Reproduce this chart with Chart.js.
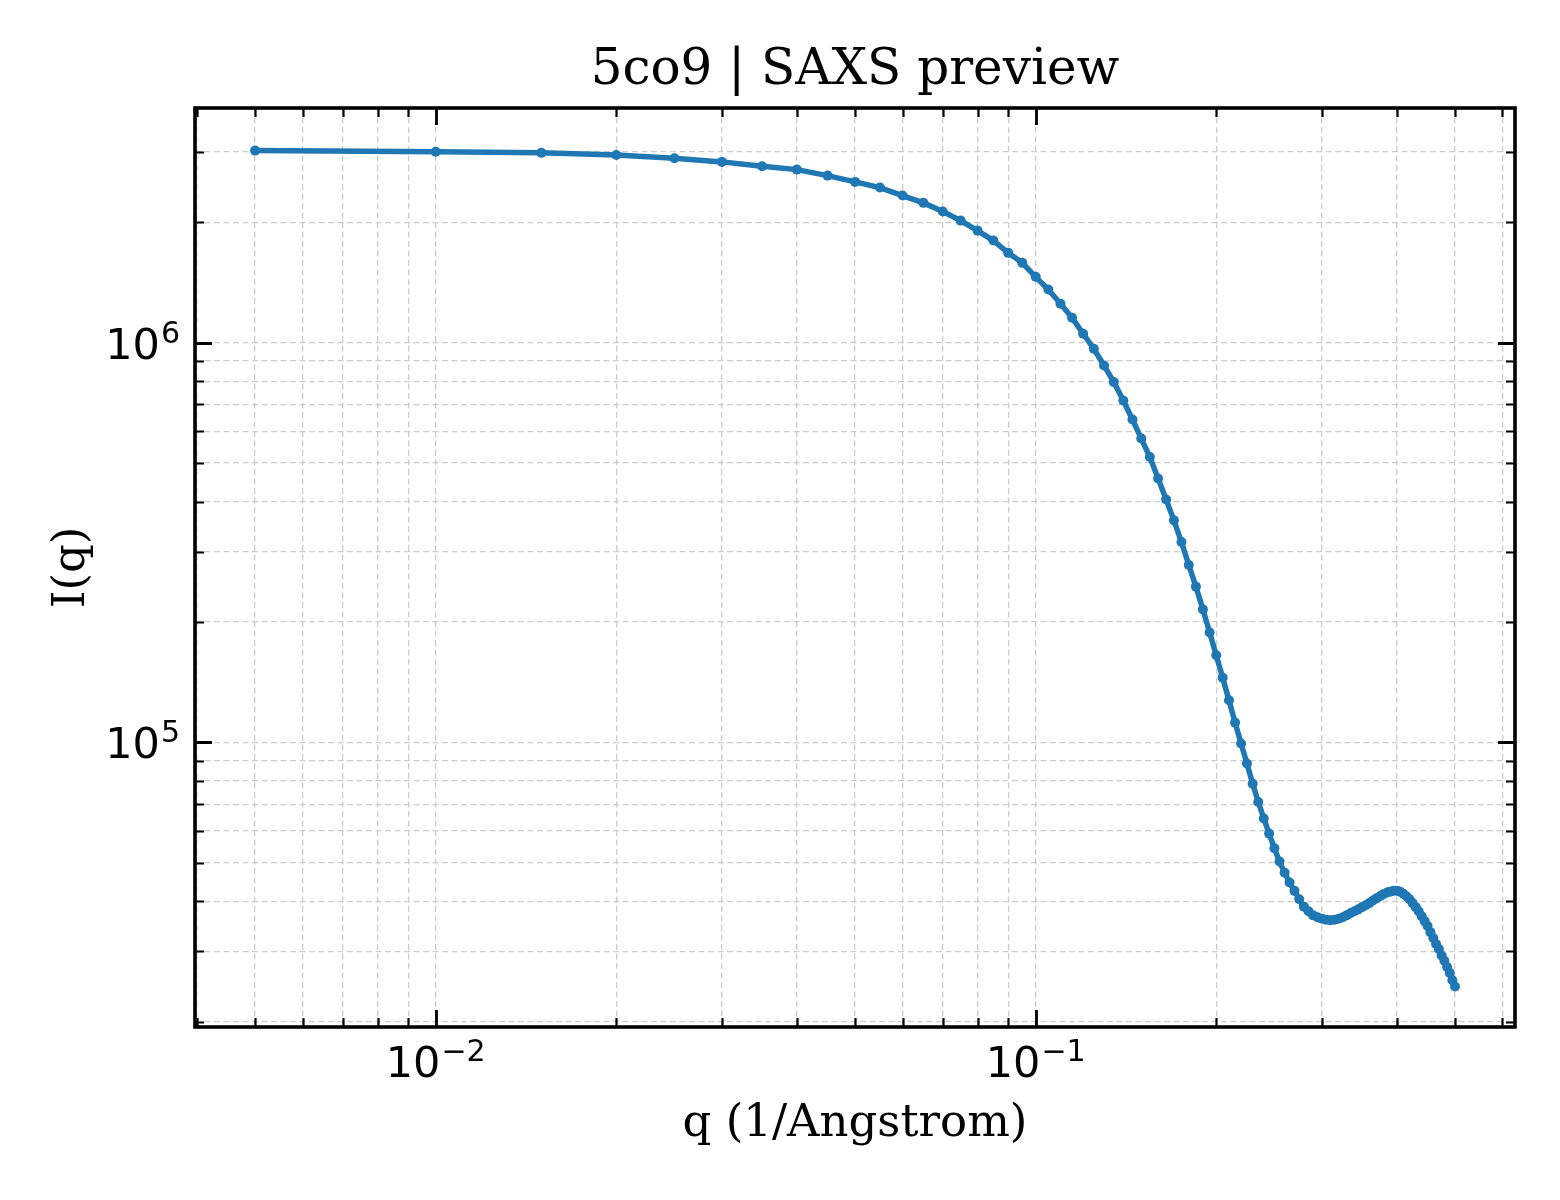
<!DOCTYPE html>
<html>
<head>
<meta charset="utf-8">
<title>5co9 | SAXS preview</title>
<script src="https://cdn.jsdelivr.net/npm/chart.js@4.4.1/dist/chart.umd.min.js"></script>
<style>
  html, body { margin: 0; padding: 0; background: #fff; }
  #wrap { width: 1560px; height: 1200px; }
</style>
</head>
<body>
<div id="wrap"><canvas id="saxs" width="1560" height="1200"></canvas></div>
<script>
// q in 1/Angstrom
const qValues = [
  0.005, 0.010, 0.015, 0.020, 0.025, 0.030, 0.035, 0.040, 0.045, 0.050,
  0.055, 0.060, 0.065, 0.070, 0.075, 0.080, 0.085, 0.090, 0.095, 0.100,
  0.105, 0.110, 0.115, 0.120, 0.125, 0.130, 0.135, 0.140, 0.145, 0.150,
  0.155, 0.160, 0.165, 0.170, 0.175, 0.180, 0.185, 0.190, 0.195, 0.200,
  0.205, 0.210, 0.215, 0.220, 0.225, 0.230, 0.235, 0.240, 0.245, 0.250,
  0.255, 0.260, 0.265, 0.270, 0.275, 0.280, 0.285, 0.290, 0.295, 0.300,
  0.305, 0.310, 0.315, 0.320, 0.325, 0.330, 0.335, 0.340, 0.345, 0.350,
  0.355, 0.360, 0.365, 0.370, 0.375, 0.380, 0.385, 0.390, 0.395, 0.400,
  0.405, 0.410, 0.415, 0.420, 0.425, 0.430, 0.435, 0.440, 0.445, 0.450,
  0.455, 0.460, 0.465, 0.470, 0.475, 0.480, 0.485, 0.490, 0.495, 0.500
];

// I(q)
const intensity = [
  3020000, 3000000, 2981000, 2946000, 2889000, 2830000, 2759000, 2707000, 2615000, 2522000,
  2441000, 2331000, 2235000, 2126000, 2018000, 1905000, 1799000, 1676000, 1582000, 1460000,
  1357000, 1250000, 1153000, 1052000, 964500, 876000, 796000, 716000, 642000, 575000,
  517000, 457000, 405000, 359000, 316800, 277600, 245100, 215000, 188100, 165000,
  145100, 127400, 112000, 99300, 88500, 78800, 70900, 64500, 59100, 54300,
  50300, 47200, 44600, 42500, 40500, 38800, 37800, 36900, 36500, 36200,
  36000, 35900, 36000, 36200, 36500, 36900, 37400, 37800, 38200, 38700,
  39100, 39600, 40200, 40700, 41200, 41700, 42100, 42300, 42500, 42550,
  42300, 41800, 41200, 40500, 39600, 38700, 37800, 36700, 35700, 34700,
  33500, 32400, 31300, 30400, 29300, 28400, 27400, 26500, 25400, 24500
];

const xGridTicks = [0.004, 0.005, 0.006, 0.007, 0.008, 0.009, 0.01,
  0.02, 0.03, 0.04, 0.05, 0.06, 0.07, 0.08, 0.09, 0.1,
  0.2, 0.3, 0.4, 0.5, 0.6];
const yGridTicks = [20000, 30000, 40000, 50000, 60000, 70000, 80000, 90000, 100000,
  200000, 300000, 400000, 500000, 600000, 700000, 800000, 900000, 1000000,
  2000000, 3000000];
const xMajorTicks = [0.01, 0.1];
const xTickExponents = ['\u22122', '\u22121'];
const yMajorTicks = [100000, 1000000];
const yTickExponents = ['5', '6'];

const serif = '"DejaVu Serif", "Liberation Serif", serif';
const sans = '"DejaVu Sans", "Liberation Sans", sans-serif';

function drawPower(ctx, x, y, exp, align) {
  ctx.font = '43px ' + sans;
  const wBase = ctx.measureText('10').width;
  ctx.font = '30px ' + sans;
  const wExp = ctx.measureText(exp).width;
  const total = wBase + wExp + 1;
  let start = align === 'right' ? x - total : x - total / 2;
  ctx.textAlign = 'left';
  ctx.textBaseline = 'alphabetic';
  ctx.font = '43px ' + sans;
  ctx.fillText('10', start, y);
  ctx.font = '30px ' + sans;
  ctx.fillText(exp, start + wBase + 1, y - 16);
}

// matplotlib look: inward ticks on every side, black frame, mathtext tick labels
const framePlugin = {
  id: 'frame',
  afterDraw(chart) {
    const ctx = chart.ctx;
    const a = chart.chartArea;
    const xs = chart.scales.x, ys = chart.scales.y;
    ctx.save();
    ctx.strokeStyle = '#000';
    ctx.lineCap = 'butt';

    xGridTicks.forEach(v => {
      const major = xMajorTicks.includes(v);
      const len = major ? 17 : 9;
      ctx.lineWidth = major ? 2.8 : 2.2;
      const px = Math.round(xs.getPixelForValue(v)) + 0.5;
      ctx.beginPath();
      ctx.moveTo(px, a.bottom); ctx.lineTo(px, a.bottom - len);
      ctx.moveTo(px, a.top); ctx.lineTo(px, a.top + len);
      ctx.stroke();
    });
    yGridTicks.forEach(v => {
      const major = yMajorTicks.includes(v);
      const len = major ? 17 : 9;
      ctx.lineWidth = major ? 2.8 : 2.2;
      const py = Math.round(ys.getPixelForValue(v)) + 0.5;
      ctx.beginPath();
      ctx.moveTo(a.left, py); ctx.lineTo(a.left + len, py);
      ctx.moveTo(a.right, py); ctx.lineTo(a.right - len, py);
      ctx.stroke();
    });

    ctx.lineWidth = 3.6;
    ctx.strokeRect(a.left, a.top, a.right - a.left, a.bottom - a.top);

    ctx.fillStyle = '#000';
    xMajorTicks.forEach((v, i) => {
      drawPower(ctx, xs.getPixelForValue(v), a.bottom + 50, xTickExponents[i], 'center');
    });
    yMajorTicks.forEach((v, i) => {
      drawPower(ctx, a.left - 15, ys.getPixelForValue(v) + 16, yTickExponents[i], 'right');
    });

    const cx = (a.left + a.right) / 2;
    ctx.textAlign = 'center';
    ctx.textBaseline = 'alphabetic';
    ctx.font = '50px ' + serif;
    ctx.fillText('5co9 | SAXS preview', cx, 84);
    ctx.font = '45px ' + serif;
    ctx.fillText('q (1/Angstrom)', cx, 1136);

    ctx.translate(84, (a.top + a.bottom) / 2);
    ctx.rotate(-Math.PI / 2);
    ctx.fillText('I(q)', 0, 0);
    ctx.restore();
  }
};

let saxsChart = new Chart(document.getElementById('saxs'), {
  type: 'line',
  data: {
    datasets: [{
      label: 'I(q)',
      data: qValues.map((q, i) => ({x: q, y: intensity[i]})),
      borderColor: '#1f77b4',
      backgroundColor: '#1f77b4',
      borderWidth: 5.5,
      pointRadius: 5,
      pointBorderWidth: 0,
      pointHoverRadius: 5,
      tension: 0,
      fill: false
    }]
  },
  options: {
    responsive: false,
    animation: false,
    devicePixelRatio: 1,
    layout: { padding: { top: 108, right: 45, bottom: 0, left: 0 } },
    plugins: {
      legend: { display: false },
      title: { display: false },
      tooltip: { enabled: false }
    },
    scales: {
      x: {
        type: 'logarithmic',
        min: 0.00397,
        max: 0.6295,
        ticks: { display: false },
        grid: { color: '#cccccc', lineWidth: 1.3, drawTicks: false },
        border: { display: false, dash: [6, 3.5] },
        afterBuildTicks: (scale) => { scale.ticks = xGridTicks.map(v => ({value: v})); },
        afterFit: (scale) => { scale.height = 173; }
      },
      y: {
        type: 'logarithmic',
        min: 19400,
        max: 3860000,
        ticks: { display: false },
        grid: { color: '#cccccc', lineWidth: 1.3, drawTicks: false },
        border: { display: false, dash: [6, 3.5] },
        afterBuildTicks: (scale) => { scale.ticks = yGridTicks.map(v => ({value: v})); },
        afterFit: (scale) => { scale.width = 195; }
      }
    }
  },
  plugins: [framePlugin]
});
</script>
</body>
</html>
